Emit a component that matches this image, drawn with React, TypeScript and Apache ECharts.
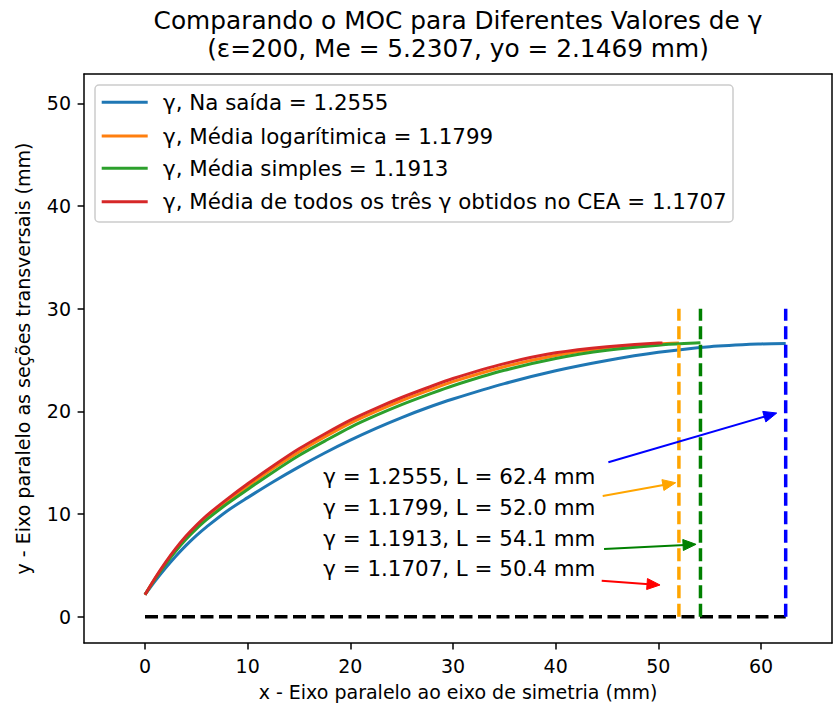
import { useEffect, useRef } from "react";
import * as echarts from "echarts";

const FONT = '"DejaVu Sans", "Noto Sans", sans-serif';

// Ratio of specific heats used in each run and resulting nozzle length (mm)
const gammas = [1.2555, 1.1799, 1.1913, 1.1707];
const lengths = [62.4, 52.0, 54.1, 50.4];
const legendLabels = [
  "Na saída",
  "Média logarítimica",
  "Média simples",
  "Média de todos os três γ obtidos no CEA",
];
const curveColors = ["#1f77b4", "#ff7f0e", "#2ca02c", "#d62728"];
const markerColors = ["#0000ff", "#ffa500", "#008000", "#ff0000"];

// Wall contours (x, y in mm)
const blueX = [0, 1, 2, 3, 4, 5, 6, 8, 10, 12.5, 15, 17.5, 20, 22.5, 25, 27.5, 30, 35, 40, 45, 50, 55, 60, 62.4];
const blueY = [2.1469, 3.5, 4.75, 5.9, 6.95, 7.9, 8.75, 10.3, 11.6, 13.15, 14.6, 15.95, 17.2, 18.35, 19.4, 20.35, 21.2, 22.7, 23.95, 24.95, 25.75, 26.3, 26.57, 26.62];
const orangeX = [0, 1, 2, 3, 4, 5, 6, 8, 10, 12.5, 15, 17.5, 20, 22.5, 25, 27.5, 30, 35, 40, 45, 50, 52.0];
const orangeY = [2.1469, 3.75, 5.2, 6.55, 7.7, 8.75, 9.65, 11.25, 12.7, 14.45, 16.05, 17.5, 18.85, 20.0, 21.05, 22.0, 22.9, 24.35, 25.45, 26.2, 26.57, 26.65];
const greenX = [0, 1, 2, 3, 4, 5, 6, 8, 10, 12.5, 15, 17.5, 20, 22.5, 25, 27.5, 30, 35, 40, 45, 50, 54.1];
const greenY = [2.1469, 3.7, 5.1, 6.4, 7.55, 8.55, 9.45, 11.0, 12.4, 14.1, 15.7, 17.1, 18.45, 19.6, 20.65, 21.6, 22.5, 24.0, 25.15, 25.95, 26.45, 26.68];
const redX = [0, 1, 2, 3, 4, 5, 6, 8, 10, 12.5, 15, 17.5, 20, 22.5, 25, 27.5, 30, 35, 40, 45, 50.4];
const redY = [2.1469, 3.8, 5.3, 6.65, 7.85, 8.9, 9.85, 11.45, 12.95, 14.7, 16.35, 17.8, 19.15, 20.3, 21.35, 22.3, 23.2, 24.65, 25.7, 26.3, 26.68];

const curvesX = [blueX, orangeX, greenX, redX];
const curvesY = [blueY, orangeY, greenY, redY];

// Height of the vertical length markers
const markerTop = 30;

// Annotation text anchor and arrows (data coordinates)
const noteX = 17.36;
const noteY = [13.64, 10.66, 7.64, 4.71];
const arrowFromX = [45.13, 44.58, 44.71, 44.48];
const arrowFromY = [15.04, 11.76, 6.59, 3.51];
const arrowToX = [61.53, 51.69, 53.67, 50.16];
const arrowToY = [19.84, 13.05, 7.05, 3.09];

const xTicks = [0, 10, 20, 30, 40, 50, 60];
const yTicks = [0, 10, 20, 30, 40, 50];

const titleLines = [
  "Comparando o MOC para Diferentes Valores de γ",
  "(ε=200, Me = 5.2307, yo = 2.1469 mm)",
];

const GRID = { left: 84, top: 74, width: 748, height: 569 };
const X_RANGE = [-5.94, 66.91];
const Y_RANGE = [-2.56, 52.86];

const TICK_FONT = 19;
const TEXT_FONT = 21.4;
const TITLE_FONT = 24.8;

export default function App() {
  const ref = useRef<HTMLDivElement>(null);

  useEffect(() => {
    if (!ref.current) return;
    const chart = echarts.init(ref.current, null, { renderer: "svg" });

    const axisLine = { show: true, onZero: false, lineStyle: { color: "#000", width: 1.5 } };

    const curveSeries = curvesX.map((xs, i) => ({
      name: `γ, ${legendLabels[i]} = ${gammas[i].toFixed(4)}`,
      type: "line",
      data: xs.map((x, k) => [x, curvesY[i][k]]),
      showSymbol: false,
      smooth: 0.3,
      lineStyle: { color: curveColors[i], width: 3 },
      itemStyle: { color: curveColors[i] },
      z: 3 + i,
    }));

    const dashed = (data: number[][], color: string, z: number) => ({
      type: "line",
      data,
      showSymbol: false,
      lineStyle: { color, width: 3.5, type: [13, 5.5] },
      z,
      silent: true,
    });

    const markerSeries = [
      dashed([[0, 0], [lengths[0], 0]], "#000", 8),
      dashed([[lengths[1], 0], [lengths[1], markerTop]], markerColors[1], 9),
      dashed([[lengths[2], 0], [lengths[2], markerTop]], markerColors[2], 9),
      dashed([[lengths[0], 0], [lengths[0], markerTop]], markerColors[0], 9),
    ];

    const arrowSeries = {
      type: "custom",
      data: arrowFromX.map((x, i) => [x, arrowFromY[i], arrowToX[i], arrowToY[i]]),
      encode: { x: [0, 2], y: [1, 3] },
      z: 10,
      silent: true,
      renderItem: (params: any, api: any) => {
        const i = params.dataIndex;
        const p0 = api.coord([api.value(0), api.value(1)]);
        const p1 = api.coord([api.value(2), api.value(3)]);
        const dx = p1[0] - p0[0];
        const dy = p1[1] - p0[1];
        const len = Math.hypot(dx, dy);
        const ux = dx / len;
        const uy = dy / len;
        const headLen = 13;
        const halfW = 5.5;
        const bx = p1[0] - ux * headLen;
        const by = p1[1] - uy * headLen;
        const color = markerColors[i];
        return {
          type: "group",
          children: [
            {
              type: "line",
              shape: { x1: p0[0], y1: p0[1], x2: bx + ux * 2, y2: by + uy * 2 },
              style: { stroke: color, lineWidth: 2 },
            },
            {
              type: "polygon",
              shape: {
                points: [
                  [p1[0], p1[1]],
                  [bx - uy * halfW, by + ux * halfW],
                  [bx + uy * halfW, by - ux * halfW],
                ],
              },
              style: { fill: color, stroke: color, lineWidth: 1 },
            },
          ],
        };
      },
    };

    const noteSeries = {
      type: "custom",
      data: noteY.map((y) => [noteX, y]),
      z: 10,
      silent: true,
      renderItem: (params: any, api: any) => {
        const i = params.dataIndex;
        const p = api.coord([api.value(0), api.value(1)]);
        return {
          type: "text",
          x: p[0],
          y: p[1],
          style: {
            text: `γ = ${gammas[i].toFixed(4)}, L = ${lengths[i].toFixed(1)} mm`,
            font: `${TEXT_FONT}px ${FONT}`,
            fill: "#000",
            textAlign: "left",
            textVerticalAlign: "middle",
          },
        };
      },
    };

    // Legend frame (upper left)
    const legendRowY = [102.3, 136, 168.3, 201.7];
    const legendChildren: any[] = [
      {
        type: "rect",
        shape: { x: 95, y: 85, width: 638, height: 137, r: 4 },
        style: { fill: "rgba(255,255,255,0.8)", stroke: "#cccccc", lineWidth: 1.5 },
      },
    ];
    legendRowY.forEach((y, i) => {
      legendChildren.push({
        type: "line",
        shape: { x1: 101.7, y1: y, x2: 147.7, y2: y },
        style: { stroke: curveColors[i], lineWidth: 3 },
      });
      legendChildren.push({
        type: "text",
        x: 163,
        y,
        style: {
          text: curveSeries[i].name,
          font: `${TEXT_FONT}px ${FONT}`,
          fill: "#000",
          textAlign: "left",
          textVerticalAlign: "middle",
        },
      });
    });

    const tickStyle = { color: "#000", width: 1.5 };
    const labelStyle = { margin: 13, fontSize: TICK_FONT, fontFamily: FONT, color: "#000" };

    const titleRowY = [20, 48.8];

    chart.setOption({
      animation: false,
      backgroundColor: "#fff",
      grid: { ...GRID, containLabel: false },
      xAxis: [
        {
          type: "value",
          min: X_RANGE[0],
          max: X_RANGE[1],
          position: "bottom",
          splitLine: { show: false },
          axisLine,
          axisTick: { show: true, length: 6.4, inside: false, customValues: xTicks, lineStyle: tickStyle },
          axisLabel: { ...labelStyle, customValues: xTicks },
        },
        {
          type: "value",
          min: X_RANGE[0],
          max: X_RANGE[1],
          position: "top",
          splitLine: { show: false },
          axisLine,
          axisTick: { show: false },
          axisLabel: { show: false },
        },
      ],
      yAxis: [
        {
          type: "value",
          min: Y_RANGE[0],
          max: Y_RANGE[1],
          position: "left",
          splitLine: { show: false },
          axisLine,
          axisTick: { show: true, length: 6.4, inside: false, customValues: yTicks, lineStyle: tickStyle },
          axisLabel: { ...labelStyle, customValues: yTicks },
        },
        {
          type: "value",
          min: Y_RANGE[0],
          max: Y_RANGE[1],
          position: "right",
          splitLine: { show: false },
          axisLine,
          axisTick: { show: false },
          axisLabel: { show: false },
        },
      ],
      series: [...curveSeries, ...markerSeries, arrowSeries, noteSeries],
      graphic: [
        ...titleLines.map((t, i) => ({
          type: "text",
          x: 458,
          y: titleRowY[i],
          style: {
            text: t,
            font: `${TITLE_FONT}px ${FONT}`,
            fill: "#000",
            textAlign: "center",
            textVerticalAlign: "middle",
          },
        })),
        {
          type: "text",
          x: 458,
          y: 692,
          style: {
            text: "x - Eixo paralelo ao eixo de simetria (mm)",
            font: `${TICK_FONT}px ${FONT}`,
            fill: "#000",
            textAlign: "center",
            textVerticalAlign: "middle",
          },
        },
        {
          type: "text",
          x: 23,
          y: 358.5,
          rotation: Math.PI / 2,
          style: {
            text: "y - Eixo paralelo as seções transversais (mm)",
            font: `${TICK_FONT}px ${FONT}`,
            fill: "#000",
            textAlign: "center",
            textVerticalAlign: "middle",
          },
        },
        { type: "group", z: 100, children: legendChildren },
      ],
    });

    return () => chart.dispose();
  }, []);

  return (
    <div
      ref={ref}
      style={{ position: "absolute", left: 0, top: 0, width: 834, height: 708 }}
    />
  );
}
